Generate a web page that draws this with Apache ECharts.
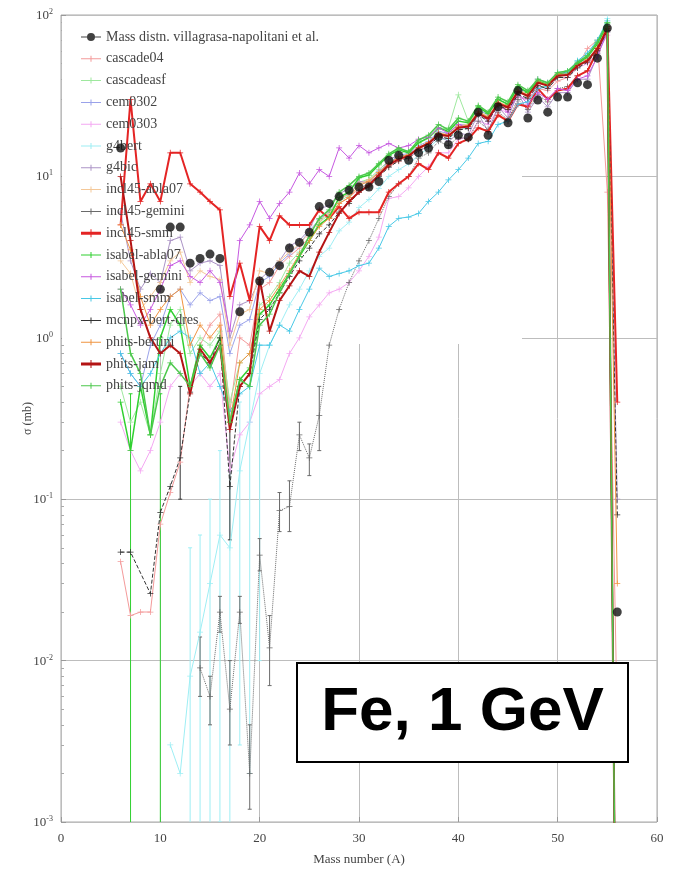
<!DOCTYPE html>
<html>
<head>
<meta charset="utf-8">
<title>Fe, 1 GeV mass distribution</title>
<script src="https://cdn.jsdelivr.net/npm/echarts/dist/echarts.min.js"></script>
<style>
  html, body { margin: 0; padding: 0; background: #fff; }
  #chart { width: 681px; height: 874px; }
</style>
</head>
<body>
<div id="chart"></div>
<script>
// Mass numbers A = 6 ... 56 shared by every series below
const massNumbers = [6, 7, 8, 9, 10, 11, 12, 13, 14, 15, 16, 17, 18, 19, 20, 21, 22, 23, 24, 25,
  26, 27, 28, 29, 30, 31, 32, 33, 34, 35, 36, 37, 38, 39, 40, 41, 42, 43, 44, 45,
  46, 47, 48, 49, 50, 51, 52, 53, 54, 55, 56];

// Measured cross sections (mb)
const measured = [15, null, null, null, 2.0, 4.85, 4.85, 2.9, 3.1, 3.3,
  3.1, null, 1.45, null, 2.25, 2.55, 2.8, 3.6, 3.9, 4.5,
  6.5, 6.8, 7.5, 8.2, 8.6, 8.6, 9.3, 12.6, 13.5, 12.6,
  14, 15, 17.6, 15.7, 18, 17.5, 25, 18, 27, 21.5,
  34, 23, 29.7, 25, 31, 31, 38, 37, 54, 83, 0.02];

// Model calculations (mb); 0.00001 marks a value below the plotted range
const cascade04 = [0.041, 0.019, 0.02, 0.02, 0.07, 0.11, 0.17, 0.5, 0.9, 1.2,
  1.4, 0.35, 1.0, 0.9, 2.0, 2.2, 2.8, 3.2, 3.6, 4.2,
  5.0, 5.6, 6.8, 7.4, 8.4, 9.0, 10.2, 11.5, 12.4, 13.5,
  14.6, 16, 17.5, 18, 20, 21, 24, 23, 27, 26,
  31, 30, 35, 34, 39, 41, 48, 62, 70, 8, 0.004];
const cascadeasf = [0.5, 0.3, 0.4, 0.25, 0.6, 1.2, 1.5, 0.8, 1.0, 0.9,
  1.1, 0.4, 0.7, 0.8, 1.6, 1.8, 2.2, 2.9, 3.4, 4.0,
  5.2, 5.8, 7.0, 7.6, 9.2, 9.6, 11, 12.5, 13.8, 14.5,
  16, 17.2, 19.5, 20, 32, 22, 26, 24, 28, 27,
  33, 32, 36, 36, 41, 43, 50, 56, 70, 90, 0.00001];
const cem0302 = [0.8, 0.6, 0.5, 0.9, 1.2, 1.8, 2.0, 1.6, 1.9, 1.7,
  1.8, 0.8, 1.2, 1.3, 2.2, 2.4, 2.9, 3.3, 3.8, 4.6,
  5.4, 6.0, 7.2, 7.8, 9.0, 9.4, 10.8, 12, 13.6, 13.8,
  15.5, 16.5, 19, 18.5, 21, 21, 26, 24, 30, 28,
  35, 33, 40, 38, 44, 44, 50, 54, 62, 80, 0.00001];
const cem0303 = [0.3, 0.2, 0.15, 0.2, 0.3, 0.5, 0.6, 0.5, 0.6, 0.5,
  0.6, 0.15, 0.25, 0.3, 0.45, 0.5, 0.55, 0.8, 1.0, 1.35,
  1.6, 1.9, 2.0, 2.2, 2.6, 3.2, 4.2, 7.3, 7.5, 8.5,
  10, 11.5, 14, 14, 17, 17.5, 22, 21, 26, 25,
  31, 30, 36, 35, 41, 41, 47, 50, 58, 75, 0.00001];
const g4bert = [null, null, null, null, null, 0.003, 0.002, 0.008, 0.015, 0.03,
  0.06, 0.05, 0.15, 0.3, 0.6, 0.9, 1.2, 1.6, 2.0, 2.6,
  3.2, 3.6, 4.6, 5.2, 6.4, 7.2, 8.4, 10, 11, 12,
  13.5, 15, 17, 17, 19.5, 20, 24, 23, 28, 27,
  34, 33, 38, 38, 44, 45, 52, 58, 68, 95, 0.00001];
const g4bic = [6, 3, 2, 2.5, 2.2, 4, 4.2, 2.6, 2.9, 3.0,
  2.8, 1.0, 1.6, 1.7, 2.3, 2.6, 3.0, 3.7, 4.0, 4.7,
  6.3, 6.6, 7.8, 8.4, 9.3, 9.2, 10.2, 12.8, 13.4, 13,
  14.5, 15.2, 18, 16.4, 18.6, 18, 24.5, 19, 27, 23,
  33, 25, 31, 27, 33, 33, 40, 40, 56, 78, 0.1];
const incl45Abla07 = [3.0, 2.5, 1.5, 1.8, 2.2, 3.0, 3.4, 2.2, 2.6, 2.4,
  2.3, 0.9, 1.4, 1.5, 2.6, 2.5, 3.0, 3.4, 3.8, 4.5,
  5.3, 5.9, 7.2, 7.8, 9.0, 9.5, 10.6, 12, 13.2, 13.6,
  15.2, 16.2, 18.6, 18.2, 20.6, 21, 25.5, 23.5, 29, 27.5,
  34.5, 32.5, 39, 37.5, 43, 43.5, 49, 53, 62, 82, 0.00001];
const incl45Gemini = [null, null, null, null, null, null, null, null, 0.009, 0.006,
  0.02, 0.005, 0.02, 0.002, 0.045, 0.012, 0.085, 0.09, 0.25, 0.18,
  0.33, 0.9, 1.5, 2.2, 3.0, 4.0, 5.5, 7.5, 9.0, 10,
  13, 14, 16.5, 15.5, 17.5, 17, 22, 19.5, 25, 22.5,
  30, 26, 32, 29, 35, 36, 42, 45, 58, 80, 0.00001];
const incl45Smm = [5, 30, 7, 9, 7, 14, 14, 9, 8, 7,
  6.2, 1.8, 2.9, 1.7, 4.9, 4.0, 5.7, 5.0, 5.0, 5.0,
  6.2, 5.5, 6.5, 5.5, 6.0, 6.0, 6.0, 8, 9, 10,
  12, 11, 14, 13, 16, 17, 20, 19, 24, 22,
  28, 27, 35, 30, 34, 35, 42, 45, 60, 85, 0.4];
const isabelAbla07 = [0.4, 0.2, 0.5, 0.25, 1.0, 1.5, 1.2, 0.5, 0.9, 0.75,
  1.0, 0.3, 0.55, 0.65, 1.4, 1.6, 2.0, 2.5, 3.2, 4.0,
  5.0, 5.6, 7.4, 8, 9.8, 10.2, 11.8, 13.5, 14.6, 14,
  16.2, 17.4, 20, 19, 22, 21.5, 27, 24.5, 30, 28,
  36, 33, 39, 37, 43, 44, 50, 55, 66, 88, 0.00001];
const isabelGemini = [2.0, 1.6, 1.2, 1.5, 2.0, 2.8, 3.0, 2.4, 2.2, 2.6,
  2.2, 1.1, 4.0, 5.0, 7.0, 5.5, 6.8, 8.0, 10.5, 9.0,
  11, 10, 15, 13, 15.5, 14, 15, 16, 15, 15.5,
  17, 17.5, 20, 18.5, 21, 20, 25, 22, 28, 25,
  33, 28, 33, 30, 35, 34, 40, 42, 55, 80, 0.00001];
const isabelSmm = [0.8, 0.6, 0.5, 0.6, 0.8, 1.0, 1.1, 1.0, 0.6, 0.7,
  0.5, 0.35, 0.45, 0.5, 0.9, 0.9, 1.2, 1.1, 1.5, 2.0,
  2.7, 2.4, 2.5, 2.6, 2.8, 2.9, 3.6, 4.9, 5.5, 5.6,
  5.9, 7.0, 8.0, 9.5, 11, 13, 16, 16.5, 21, 22,
  28, 29, 35, 36, 42, 44, 52, 58, 70, 92, 0.00001];
const mcnpxBertDres = [0.047, 0.047, null, 0.026, 0.083, 0.12, 0.18, 0.46, 0.8, 0.7,
  1.0, 0.12, 0.5, 0.6, 1.3, 1.5, 1.9, 2.4, 3.0, 3.6,
  4.4, 5.0, 6.0, 6.8, 8.0, 8.6, 10, 11.4, 12.5, 13,
  14.4, 15.4, 17.6, 17.2, 19.4, 19.8, 24, 22, 27.5, 26,
  32, 30.5, 36.5, 35, 41, 41, 47, 51, 60, 80, 0.08];
const phitsBertini = [5, 3.5, 1.8, 1.2, 1.5, 1.8, 2.0, 0.9, 1.2, 1.0,
  1.2, 0.3, 0.7, 0.8, 1.5, 1.7, 2.1, 2.6, 3.3, 4.0,
  4.9, 5.5, 6.8, 7.4, 8.8, 9.3, 10.6, 12, 13.2, 13.6,
  15, 16.2, 18.5, 18, 20.3, 20.7, 25.2, 23.2, 28.7, 27.2,
  34, 32, 38.5, 37, 43, 43, 49, 53, 63, 84, 0.03];
const phitsJam = [10, 4, 1.5, 1.0, 0.8, 0.9, 0.8, 0.45, 0.85, 0.7,
  0.9, 0.27, 0.5, 0.6, 2.3, 1.1, 1.7, 2.1, 2.6, 2.4,
  3.4, 4.5, 5.9, 7.0, 8.0, 8.8, 10.2, 11.8, 12.8, 13.4,
  15, 16, 18.2, 17.8, 20, 20.4, 24.6, 22.8, 28.2, 26.8,
  33.5, 31.5, 38, 36.5, 42, 42.5, 48.5, 52, 62, 82, 0.00001];
const phitsJqmd = [2, 0.8, 0.6, 0.25, 0.5, 0.7, 0.6, 0.5, 0.8, 0.65,
  0.9, 0.3, 0.55, 0.5, 1.2, 1.4, 1.9, 2.5, 3.2, 4.3,
  5.5, 6.2, 8, 8.8, 10, 10.5, 12, 13.8, 15, 14.2,
  16.8, 18, 21, 19.5, 23, 22, 27.5, 25, 31, 29,
  37, 34, 40, 38, 44, 45, 51, 56, 68, 90, 0.00001];

// Error bars [A, low, high] (mb) for the points with wide uncertainties
const incl45GeminiErr = [[14, 0.006, 0.014], [15, 0.004, 0.008], [16, 0.015, 0.025], [17, 0.003, 0.01],
  [18, 0.017, 0.025], [19, 0.0012, 0.004], [20, 0.036, 0.057], [21, 0.007, 0.019], [22, 0.063, 0.11],
  [23, 0.063, 0.13], [24, 0.2, 0.3], [25, 0.14, 0.22], [26, 0.2, 0.5]];
const g4bertErr = [[13, 0.00001, 0.05], [14, 0.0005, 0.06], [15, 0.00001, 0.1], [16, 0.001, 0.2],
  [17, 0.00001, 0.15], [18, 0.003, 0.4], [19, 0.002, 0.6], [20, 0.01, 0.9]];
const isabelAbla07Err = [[7, 0.00001, 0.45], [10, 0.00001, 0.45]];
const mcnpxErr = [[12, 0.1, 0.5], [17, 0.056, 0.3]];

const legendTitle = 'Mass distn. villagrasa-napolitani et al.';
const boxText = 'Fe, 1 GeV';

const PLUS = 'path://M0 3.5h8v1H0z M3.5 0h1v8h-1z';
const ICON_THIN = 'path://M0 6.5h20v1H0z M9.5 4h1v6h-1z';
const ICON_THICK = 'path://M0 5.5h20v3H0z M9.5 3h1v8h-1z';
const ICON_DATA = 'path://M0 6.5h20v1H0z M14 7a4 4 0 1 1-8 0a4 4 0 1 1 8 0z';

const models = [
  { name: 'cascade04', values: cascade04, color: '#f49a9a', width: 1 },
  { name: 'cascadeasf', values: cascadeasf, color: '#9ee89e', width: 1 },
  { name: 'cem0302', values: cem0302, color: '#9aa2ea', width: 1 },
  { name: 'cem0303', values: cem0303, color: '#f4a8f2', width: 1 },
  { name: 'g4bert', values: g4bert, color: '#9eeef4', width: 1, err: g4bertErr },
  { name: 'g4bic', values: g4bic, color: '#ac94c6', width: 1 },
  { name: 'incl45-abla07', values: incl45Abla07, color: '#f4c898', width: 1 },
  { name: 'incl45-gemini', values: incl45Gemini, color: '#6a6a6a', width: 1, dash: 'dotted', err: incl45GeminiErr },
  { name: 'incl45-smm', values: incl45Smm, color: '#e42424', width: 2 },
  { name: 'isabel-abla07', values: isabelAbla07, color: '#30d030', width: 1.5, err: isabelAbla07Err },
  { name: 'isabel-gemini', values: isabelGemini, color: '#c658e0', width: 1 },
  { name: 'isabel-smm', values: isabelSmm, color: '#48c8e6', width: 1 },
  { name: 'mcnpx-bert-dres', values: mcnpxBertDres, color: '#333333', width: 1, dash: 'dashed', err: mcnpxErr, connect: true },
  { name: 'phits-bertini', values: phitsBertini, color: '#f09440', width: 1 },
  { name: 'phits-jam', values: phitsJam, color: '#b41414', width: 2 },
  { name: 'phits-jqmd', values: phitsJqmd, color: '#4cc84c', width: 1.5 }
];

function pairs(values) {
  return massNumbers.map((a, i) => [a, values[i] == null ? '-' : values[i]]);
}

function errorBar(color) {
  return function (params, api) {
    const a = api.value(0);
    const top = api.coord([a, api.value(2)]);
    const bot = api.coord([a, api.value(1)]);
    const style = { stroke: color, lineWidth: 1 };
    return {
      type: 'group',
      children: [
        { type: 'line', shape: { x1: top[0], y1: top[1], x2: bot[0], y2: bot[1] }, style: style },
        { type: 'line', shape: { x1: top[0] - 2, y1: top[1], x2: top[0] + 2, y2: top[1] }, style: style },
        { type: 'line', shape: { x1: bot[0] - 2, y1: bot[1], x2: bot[0] + 2, y2: bot[1] }, style: style }
      ]
    };
  };
}

const series = [];
models.forEach((m, k) => {
  series.push({
    name: m.name,
    type: 'line',
    data: pairs(m.values),
    connectNulls: !!m.connect,
    symbol: PLUS,
    symbolSize: 6,
    showSymbol: true,
    itemStyle: { color: m.color },
    lineStyle: { color: m.color, width: m.width, type: m.dash || 'solid' },
    z: 2 + k * 0.01,
    animation: false,
    silent: true
  });
});
models.forEach((m) => {
  if (!m.err) return;
  series.push({
    name: m.name,
    type: 'custom',
    data: m.err,
    renderItem: errorBar(m.color),
    clip: true,
    z: 2,
    animation: false,
    silent: true
  });
});
series.push({
  name: legendTitle,
  type: 'scatter',
  data: pairs(measured),
  symbol: 'circle',
  symbolSize: 9,
  itemStyle: { color: '#111' },
  z: 10,
  animation: false,
  silent: true
});

const legendData = [{ name: legendTitle, icon: ICON_DATA }].concat(
  models.map(m => ({ name: m.name, icon: m.width >= 2 ? ICON_THICK : ICON_THIN }))
);

const serif = 'Liberation Serif, DejaVu Serif, serif';
const chart = echarts.init(document.getElementById('chart'), null, { renderer: 'canvas' });
chart.setOption({
  backgroundColor: '#fff',
  animation: false,
  grid: { left: 61, right: 24, top: 15, bottom: 52, show: true, borderColor: '#a8a8a8', borderWidth: 1, backgroundColor: 'transparent' },
  legend: {
    data: legendData,
    orient: 'vertical',
    left: 76,
    top: 25,
    itemWidth: 20,
    itemHeight: 14,
    itemGap: 7.8,
    selectedMode: false,
    textStyle: { fontFamily: serif, fontSize: 14, color: '#444' }
  },
  xAxis: {
    type: 'value', min: 0, max: 60, interval: 10,
    name: 'Mass number (A)', nameLocation: 'middle', nameGap: 31,
    nameTextStyle: { fontFamily: serif, fontSize: 13, color: '#444' },
    axisLine: { show: false },
    axisTick: { show: true, inside: true, length: 5, lineStyle: { color: '#999' } },
    axisLabel: { fontFamily: serif, fontSize: 13, color: '#444', margin: 10 },
    splitLine: { show: true, lineStyle: { color: '#bdbdbd', width: 1 } }
  },
  yAxis: {
    type: 'log', logBase: 10, min: 0.001, max: 100,
    name: 'σ (mb)', nameLocation: 'middle', nameGap: 27, nameRotate: 90,
    nameMoveOverlap: false,
    nameTextStyle: { fontFamily: serif, fontSize: 12, color: '#444' },
    axisLine: { show: false },
    axisTick: { show: true, inside: true, length: 5, lineStyle: { color: '#999' } },
    minorTick: { show: true, splitNumber: 9, length: 3, lineStyle: { color: '#aaa' } },
    axisLabel: {
      margin: 8,
      formatter: function (v) {
        const e = Math.round(Math.log10(v));
        return '{b|10}{s|' + e + '}';
      },
      rich: {
        b: { fontFamily: serif, fontSize: 13, color: '#444', verticalAlign: 'bottom' },
        s: { fontFamily: serif, fontSize: 8, color: '#444', verticalAlign: 'top', padding: [0, 0, 6, 0] }
      }
    },
    splitLine: { show: true, lineStyle: { color: '#bdbdbd', width: 1 } }
  },
  graphic: [
    {
      type: 'rect', z: 1, silent: true,
      shape: { x: 62, y: 16, width: 460, height: 328 },
      style: { fill: '#fff' }
    },
    {
      type: 'rect', z: 100, silent: true,
      shape: { x: 297, y: 663, width: 331, height: 99 },
      style: { fill: '#fff', stroke: '#000', lineWidth: 2 }
    },
    {
      type: 'text', z: 101, silent: true,
      x: 462.5, y: 713,
      style: {
        text: boxText, fill: '#000',
        font: 'bold 62px "Liberation Sans", Arial, sans-serif',
        align: 'center', verticalAlign: 'middle'
      }
    }
  ],
  series: series
});
</script>
</body>
</html>
